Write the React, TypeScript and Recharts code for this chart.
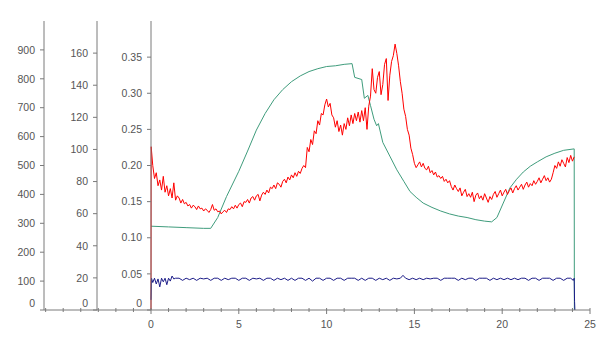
import React from "react";
import { LineChart, Line, XAxis, YAxis } from "recharts";

// Time axis (x) tick values
const xTicks = Array.from({ length: 26 }, (_, i) => i);
const outerTicks = [0, 100, 200, 300, 400, 500, 600, 700, 800, 900];
const middleTicks = [0, 20, 40, 60, 80, 100, 120, 140, 160];
const innerTicks = [0, 0.05, 0.1, 0.15, 0.2, 0.25, 0.3, 0.35];

// Red series [t, value]
const redSeries: [number, number][] = [
  [0, 0], [0.01, 0.226], [0.1, 0.2], [0.2, 0.182], [0.3, 0.19], [0.4, 0.172], [0.5, 0.18], [0.6, 0.166], [0.7, 0.185], [0.8, 0.163], [0.9, 0.172],
  [1.0, 0.158], [1.1, 0.168], [1.2, 0.155], [1.3, 0.176], [1.4, 0.152], [1.5, 0.158], [1.6, 0.155], [1.7, 0.148], [1.8, 0.153], [1.9, 0.147],
  [2.0, 0.149], [2.1, 0.144], [2.2, 0.146], [2.3, 0.141], [2.4, 0.145], [2.5, 0.143], [2.6, 0.139], [2.7, 0.144], [2.8, 0.14], [2.9, 0.141],
  [3.0, 0.137], [3.1, 0.14], [3.2, 0.138], [3.3, 0.135], [3.4, 0.139], [3.5, 0.146], [3.6, 0.138], [3.7, 0.14], [3.8, 0.136], [3.9, 0.137],
  [4.0, 0.133], [4.1, 0.136], [4.2, 0.138], [4.3, 0.135], [4.4, 0.14], [4.5, 0.139], [4.6, 0.143], [4.7, 0.14], [4.8, 0.145], [4.9, 0.141],
  [5.0, 0.146], [5.1, 0.148], [5.2, 0.143], [5.3, 0.15], [5.4, 0.149], [5.5, 0.153], [5.6, 0.148], [5.7, 0.155], [5.8, 0.157], [5.9, 0.152],
  [6.0, 0.158], [6.1, 0.16], [6.2, 0.151], [6.3, 0.159], [6.4, 0.163], [6.5, 0.16], [6.6, 0.166], [6.7, 0.162], [6.8, 0.17], [6.9, 0.168],
  [7.0, 0.173], [7.1, 0.168], [7.2, 0.176], [7.3, 0.174], [7.4, 0.17], [7.5, 0.178], [7.6, 0.181], [7.7, 0.176], [7.8, 0.184], [7.9, 0.18],
  [8.0, 0.187], [8.1, 0.183], [8.2, 0.19], [8.3, 0.185], [8.4, 0.192], [8.5, 0.189], [8.6, 0.196], [8.7, 0.2], [8.8, 0.197], [8.9, 0.225],
  [9.0, 0.219], [9.1, 0.236], [9.2, 0.229], [9.3, 0.248], [9.4, 0.244], [9.5, 0.262], [9.6, 0.256], [9.7, 0.272], [9.8, 0.27], [9.9, 0.284],
  [10.0, 0.292], [10.1, 0.281], [10.2, 0.286], [10.3, 0.27], [10.4, 0.266], [10.5, 0.253], [10.6, 0.262], [10.7, 0.247], [10.8, 0.256], [10.9, 0.242],
  [11.0, 0.258], [11.1, 0.25], [11.2, 0.266], [11.3, 0.255], [11.4, 0.27], [11.5, 0.258], [11.6, 0.272], [11.7, 0.262], [11.8, 0.274], [11.9, 0.26],
  [12.0, 0.276], [12.1, 0.262], [12.2, 0.28], [12.3, 0.25], [12.4, 0.282], [12.5, 0.296], [12.6, 0.334], [12.7, 0.305], [12.8, 0.3], [12.9, 0.322],
  [13.0, 0.33], [13.1, 0.298], [13.2, 0.312], [13.3, 0.34], [13.4, 0.348], [13.5, 0.29], [13.6, 0.325], [13.7, 0.344], [13.8, 0.352], [13.9, 0.368],
  [14.0, 0.355], [14.1, 0.338], [14.2, 0.316], [14.3, 0.3], [14.4, 0.278], [14.5, 0.268], [14.6, 0.25], [14.7, 0.242], [14.8, 0.224], [14.9, 0.215],
  [15.0, 0.203], [15.1, 0.197], [15.2, 0.201], [15.3, 0.205], [15.4, 0.198], [15.5, 0.203], [15.6, 0.196], [15.7, 0.194], [15.8, 0.199], [15.9, 0.19],
  [16.0, 0.193], [16.1, 0.187], [16.2, 0.191], [16.3, 0.184], [16.4, 0.186], [16.5, 0.182], [16.6, 0.185], [16.7, 0.178], [16.8, 0.181], [16.9, 0.176],
  [17.0, 0.179], [17.1, 0.171], [17.2, 0.166], [17.3, 0.173], [17.4, 0.168], [17.5, 0.164], [17.6, 0.169], [17.7, 0.158], [17.8, 0.163], [17.9, 0.167],
  [18.0, 0.157], [18.1, 0.161], [18.2, 0.156], [18.3, 0.163], [18.4, 0.15], [18.5, 0.159], [18.6, 0.162], [18.7, 0.154], [18.8, 0.158], [18.9, 0.152],
  [19.0, 0.161], [19.1, 0.155], [19.2, 0.149], [19.3, 0.157], [19.4, 0.153], [19.5, 0.16], [19.6, 0.164], [19.7, 0.156], [19.8, 0.161], [19.9, 0.166],
  [20.0, 0.158], [20.1, 0.163], [20.2, 0.167], [20.3, 0.16], [20.4, 0.165], [20.5, 0.169], [20.6, 0.162], [20.7, 0.168], [20.8, 0.172], [20.9, 0.166],
  [21.0, 0.17], [21.1, 0.174], [21.2, 0.167], [21.3, 0.173], [21.4, 0.177], [21.5, 0.17], [21.6, 0.175], [21.7, 0.172], [21.8, 0.179], [21.9, 0.174],
  [22.0, 0.178], [22.1, 0.183], [22.2, 0.176], [22.3, 0.181], [22.4, 0.186], [22.5, 0.179], [22.6, 0.183], [22.7, 0.177], [22.8, 0.181], [22.9, 0.19],
  [23.0, 0.2], [23.1, 0.196], [23.2, 0.205], [23.3, 0.199], [23.4, 0.208], [23.5, 0.203], [23.6, 0.198], [23.7, 0.211], [23.8, 0.204], [23.9, 0.214],
  [24.0, 0.206], [24.1, 0.212],
];

// Green series [t, value]
const greenSeries: [number, number][] = [
  [0, 0.116], [1, 0.115], [2, 0.114], [3, 0.113], [3.4, 0.113], [3.8, 0.128], [4.3, 0.157], [5.0, 0.192], [5.5, 0.22], [6.0, 0.249],
  [6.5, 0.272], [7.0, 0.291], [7.5, 0.305], [8.0, 0.316], [8.5, 0.324], [9.0, 0.33], [9.5, 0.334], [10.0, 0.337], [10.5, 0.338], [11.0, 0.34],
  [11.45, 0.341], [11.6, 0.322], [12.0, 0.319], [12.15, 0.293], [12.35, 0.297], [12.5, 0.283], [12.7, 0.264], [12.85, 0.255], [12.95, 0.258],
  [13.2, 0.232], [13.6, 0.213], [14.0, 0.194], [14.4, 0.178], [14.75, 0.164], [15.1, 0.156], [15.5, 0.148], [16.0, 0.142], [16.5, 0.137],
  [17.0, 0.133], [17.5, 0.13], [18.0, 0.128], [18.5, 0.125], [19.0, 0.123], [19.4, 0.122], [19.7, 0.128], [20.06, 0.148], [20.44, 0.169],
  [20.82, 0.181], [21.2, 0.191], [21.6, 0.199], [22.0, 0.205], [22.5, 0.212], [23.0, 0.217], [23.5, 0.221], [24.1, 0.223], [24.11, 0],
];

// Blue series [t, value]
const blueSeries: [number, number][] = [
  [0, 0.014], [0.03, 0.044], [0.1, 0.038], [0.2, 0.044], [0.3, 0.036], [0.4, 0.043], [0.5, 0.032], [0.6, 0.044], [0.7, 0.039], [0.8, 0.044],
  [0.9, 0.035], [1.0, 0.044], [1.1, 0.04], [1.2, 0.047], [1.3, 0.043], [1.4, 0.044], [1.6, 0.044], [1.8, 0.041], [2.0, 0.044], [2.2, 0.042],
  [2.4, 0.044], [2.6, 0.041], [2.8, 0.044], [3.0, 0.043], [3.2, 0.044], [3.4, 0.041], [3.6, 0.044], [3.8, 0.044], [4.0, 0.041], [4.2, 0.044],
  [4.4, 0.042], [4.6, 0.044], [4.8, 0.044], [5.0, 0.041], [5.2, 0.044], [5.4, 0.044], [5.6, 0.041], [5.8, 0.044], [6.0, 0.043], [6.2, 0.044],
  [6.4, 0.041], [6.6, 0.044], [6.8, 0.044], [7.0, 0.041], [7.2, 0.044], [7.4, 0.042], [7.6, 0.044], [7.8, 0.041], [8.0, 0.044], [8.2, 0.041],
  [8.4, 0.044], [8.6, 0.044], [8.8, 0.041], [9.0, 0.044], [9.2, 0.04], [9.4, 0.044], [9.6, 0.044], [9.8, 0.041], [10.0, 0.044], [10.2, 0.044],
  [10.4, 0.041], [10.6, 0.044], [10.8, 0.044], [11.0, 0.041], [11.2, 0.044], [11.4, 0.044], [11.6, 0.044], [11.8, 0.041], [12.0, 0.044],
  [12.2, 0.041], [12.4, 0.044], [12.6, 0.044], [12.8, 0.041], [13.0, 0.044], [13.2, 0.042], [13.4, 0.044], [13.6, 0.041], [13.8, 0.044],
  [14.0, 0.043], [14.2, 0.044], [14.35, 0.048], [14.5, 0.044], [14.7, 0.042], [14.9, 0.044], [15.1, 0.042], [15.3, 0.044], [15.5, 0.042],
  [15.7, 0.044], [15.9, 0.043], [16.1, 0.044], [16.3, 0.044], [16.5, 0.041], [16.7, 0.044], [16.9, 0.044], [17.1, 0.044], [17.3, 0.044],
  [17.5, 0.041], [17.7, 0.044], [17.9, 0.042], [18.1, 0.044], [18.3, 0.044], [18.5, 0.041], [18.7, 0.044], [18.9, 0.044], [19.1, 0.044],
  [19.3, 0.041], [19.5, 0.044], [19.7, 0.042], [19.9, 0.044], [20.1, 0.042], [20.3, 0.044], [20.5, 0.042], [20.7, 0.044], [20.9, 0.042],
  [21.1, 0.044], [21.3, 0.044], [21.5, 0.041], [21.7, 0.044], [21.9, 0.044], [22.1, 0.041], [22.3, 0.044], [22.5, 0.044], [22.7, 0.044],
  [22.9, 0.041], [23.1, 0.044], [23.3, 0.044], [23.5, 0.041], [23.7, 0.044], [23.9, 0.044], [24.05, 0.041], [24.1, 0.044], [24.12, 0.012],
  [24.14, 0],
];

const toRows = (arr: [number, number][]) => arr.map(([t, v]) => ({ t, v }));

const AXIS = "#7a7a7a";
const TEXT = "#555555";
const FONT = "'Liberation Sans', Arial, sans-serif";
const TICK_SIZE = 4;
const TICK_MARGIN = 5;

const YTick = (props: any) => {
  const { x, y, payload } = props;
  const v = payload.value;
  const ty = v === 0 ? y - 7 : y;
  return (
    <text x={x} y={ty} dy="0.355em" textAnchor="end" fontSize={10.5} fill={TEXT} fontFamily={FONT}>
      {v}
    </text>
  );
};

const makeYTickWithBase = (span: number, minor: number) => (props: any) => {
  const { x, y, payload } = props;
  const v = payload.value;
  const axisX = x + TICK_SIZE + TICK_MARGIN;
  const ty = v === 0 ? y - 7 : y;
  const label = v === 0 ? "0" : v.toFixed(2);
  const minors: number[] = [];
  if (v === 0) {
    for (let k = minor; k < span; k += minor) minors.push(axisX - k);
  }
  return (
    <g>
      {v === 0 && (
        <g>
          <line x1={axisX - span} x2={axisX} y1={y} y2={y} stroke={AXIS} strokeWidth={1} />
          {minors.map((mx, i) => (
            <line key={i} x1={mx} x2={mx} y1={y - 2} y2={y + 2} stroke={AXIS} strokeWidth={1} />
          ))}
        </g>
      )}
      <text x={x} y={ty} dy="0.355em" textAnchor="end" fontSize={10.5} fill={TEXT} fontFamily={FONT}>
        {label}
      </text>
    </g>
  );
};

const InnerTick = makeYTickWithBase(107, 17.56);

const XTick = (props: any) => {
  const { x, y, payload } = props;
  const v = payload.value;
  const axisY = y - TICK_SIZE - 7;
  const major = v % 5 === 0;
  return (
    <g>
      <line x1={x} x2={x} y1={axisY - 2} y2={axisY + (major ? 4 : 2)} stroke={AXIS} strokeWidth={1} />
      {major && (
        <text x={x} y={y} dy="0.71em" textAnchor="middle" fontSize={10.5} fill={TEXT} fontFamily={FONT}>
          {v}
        </text>
      )}
    </g>
  );
};

export default function App() {
  return (
    <div style={{ width: 601, height: 341, background: "#fff" }}>
      <LineChart width={601} height={341} margin={{ top: 13, right: 19, bottom: 9, left: 0 }}>
        <XAxis
          type="number"
          dataKey="t"
          domain={[0, 25]}
          ticks={xTicks}
          allowDuplicatedCategory={false}
          height={30}
          tickSize={TICK_SIZE}
          tickMargin={7}
          tickLine={false}
          tick={<XTick />}
          stroke={AXIS}
          interval={0}
        />
        <YAxis
          yAxisId="inner"
          orientation="left"
          width={54}
          domain={[0, 0.4]}
          ticks={innerTicks}
          type="number"
          tickSize={TICK_SIZE}
          tickMargin={TICK_MARGIN}
          tick={<InnerTick />}
          stroke={AXIS}
          interval={0}
        />
        <YAxis
          yAxisId="middle"
          orientation="left"
          width={53}
          domain={[0, 180]}
          ticks={middleTicks}
          type="number"
          allowDataOverflow
          tickSize={TICK_SIZE}
          tickMargin={TICK_MARGIN}
          tick={<YTick />}
          stroke={AXIS}
          interval={0}
        />
        <YAxis
          yAxisId="outer"
          orientation="left"
          width={36}
          domain={[0, 1000]}
          ticks={outerTicks}
          type="number"
          allowDataOverflow
          tickSize={TICK_SIZE}
          tickMargin={TICK_MARGIN}
          tick={<YTick />}
          stroke={AXIS}
          interval={0}
        />
        <Line
          yAxisId="inner"
          data={toRows(greenSeries)}
          dataKey="v"
          stroke="#3f9c7c"
          strokeWidth={1}
          dot={false}
          isAnimationActive={false}
        />
        <Line
          yAxisId="inner"
          data={toRows(redSeries)}
          dataKey="v"
          stroke="#ff0000"
          strokeWidth={1}
          dot={false}
          isAnimationActive={false}
        />
        <Line
          yAxisId="inner"
          data={toRows(blueSeries)}
          dataKey="v"
          stroke="#1c1c88"
          strokeWidth={1}
          dot={false}
          isAnimationActive={false}
        />
      </LineChart>
    </div>
  );
}
